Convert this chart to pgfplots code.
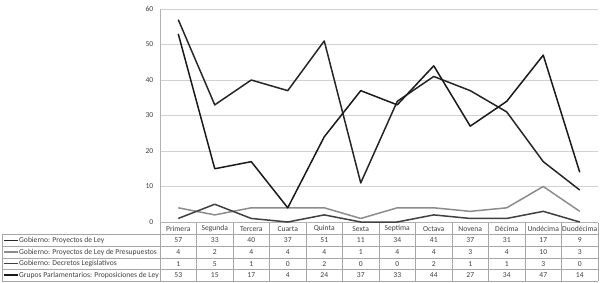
\documentclass[border=0pt]{standalone}
\usepackage{pgfplots}
\pgfplotsset{compat=1.18}
\usepackage{fontspec}
\setmainfont{Carlito}
\definecolor{sA}{HTML}{262626}
\definecolor{sB}{HTML}{8C8C8C}
\definecolor{sC}{HTML}{404040}
\definecolor{sD}{HTML}{1A1A1A}
\definecolor{txt}{HTML}{404040}
\definecolor{brd}{HTML}{A6A6A6}
\begin{document}
\begin{tikzpicture}
\fontsize{7.6}{9}\selectfont
\path (0pt,0pt) rectangle (600pt,282pt);
\begin{axis}[
  at={(160pt,60pt)}, anchor=south west,
  scale only axis, width=438pt, height=213pt,
  xmin=-0.5, xmax=11.5, ymin=0, ymax=60,
  ytick={0,10,...,60}, xtick=\empty,
  ymajorgrids, grid style={draw=black!18, line width=0.8pt},
  axis lines*=left,
  axis line style={draw=black!30, line width=0.8pt},
  major tick length=0pt,
  tick label style={font=\fontsize{7.6}{9}\selectfont, text=txt},
  yticklabel style={xshift=-4pt},
  /pgf/number format/assume math mode=true,
  clip=false,
  every axis plot/.append style={line width=1.5pt, mark=none, line join=round},
]
\addplot[sB] coordinates {(0,4) (1,2) (2,4) (3,4) (4,4) (5,1) (6,4) (7,4) (8,3) (9,4) (10,10) (11,3)};
\addplot[sC] coordinates {(0,1) (1,5) (2,1) (3,0) (4,2) (5,0) (6,0) (7,2) (8,1) (9,1) (10,3) (11,0)};
\addplot[sA] coordinates {(0,57) (1,33) (2,40) (3,37) (4,51) (5,11) (6,34) (7,41) (8,37) (9,31) (10,17) (11,9)};
\addplot[sD] coordinates {(0,53) (1,15) (2,17) (3,4) (4,24) (5,37) (6,33) (7,44) (8,27) (9,34) (10,47) (11,14)};
\end{axis}
\begin{scope}[x=1pt, y=1pt]
% table grid
\begin{scope}[draw=brd, line width=0.6pt]
\draw (160,47.4) -- (598,47.4);
\foreach \yy in {47.4,35.8,24.2,12.6,1.0} \draw (2,\yy) -- (598,\yy);
\draw (2,1) -- (2,47.4);
\foreach \k in {0,...,12} \draw ({160+36.5*\k},1) -- ({160+36.5*\k},59);
\end{scope}
% header
\foreach \n [count=\i from 0] in {Primera,Segunda,Tercera,Cuarta,Quinta,Sexta,Septima,Octava,Novena,Décima,Undécima,Duodécima}
  \node[text=txt, inner sep=0pt] at ({178.25+36.5*\i},53.2) {\n};
% rows
\foreach \v [count=\i from 0] in {57,33,40,37,51,11,34,41,37,31,17,9}
  \node[text=txt, inner sep=0pt] at ({178.25+36.5*\i},41.6) {\v};
\foreach \v [count=\i from 0] in {4,2,4,4,4,1,4,4,3,4,10,3}
  \node[text=txt, inner sep=0pt] at ({178.25+36.5*\i},30) {\v};
\foreach \v [count=\i from 0] in {1,5,1,0,2,0,0,2,1,1,3,0}
  \node[text=txt, inner sep=0pt] at ({178.25+36.5*\i},18.4) {\v};
\foreach \v [count=\i from 0] in {53,15,17,4,24,37,33,44,27,34,47,14}
  \node[text=txt, inner sep=0pt] at ({178.25+36.5*\i},6.8) {\v};
% legend labels
\draw[sA, line width=1.5pt] (4,41.6) -- (18,41.6);
\node[anchor=west, text=txt, inner sep=0pt] at (19,41.6) {Gobierno: Proyectos de Ley};
\draw[sB, line width=1.5pt] (4,30) -- (18,30);
\node[anchor=west, text=txt, inner sep=0pt] at (19,30) {Gobierno: Proyectos de Ley de Presupuestos};
\draw[sC, line width=1.5pt] (4,18.4) -- (18,18.4);
\node[anchor=west, text=txt, inner sep=0pt] at (19,18.4) {Gobierno: Decretos Legislativos};
\draw[sD, line width=1.5pt] (4,6.8) -- (18,6.8);
\node[anchor=west, text=txt, inner sep=0pt] at (19,6.8) {Grupos Parlamentarios: Proposiciones de Ley};
\end{scope}
\end{tikzpicture}
\end{document}
